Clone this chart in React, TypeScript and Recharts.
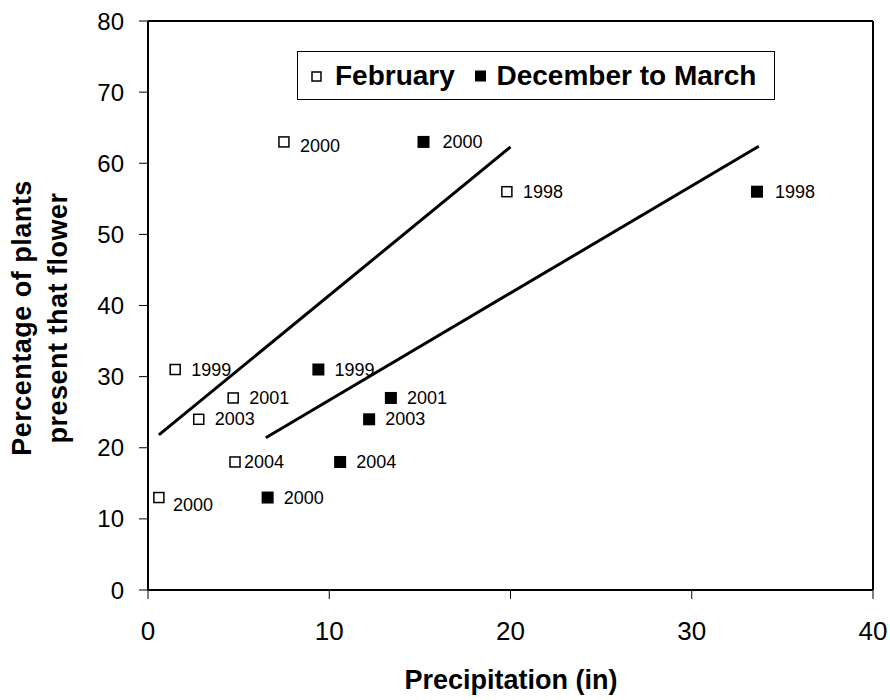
import React from 'react';
import {
  ScatterChart,
  Scatter,
  XAxis,
  YAxis,
  ReferenceLine,
  Legend,
} from 'recharts';

// February precipitation vs flowering
const FEB_X = [0.6, 4.8, 2.8, 4.7, 1.5, 7.5, 19.8];
const FEB_Y = [13, 18, 24, 27, 31, 63, 56];
const FEB_YEARS = ['2000', '2004', '2003', '2001', '1999', '2000', '1998'];

// December to March precipitation vs flowering
const DEC_X = [6.6, 10.6, 12.2, 13.4, 9.4, 15.2, 33.6];
const DEC_Y = [13, 18, 24, 27, 31, 63, 56];
const DEC_YEARS = ['2000', '2004', '2003', '2001', '1999', '2000', '1998'];

// fitted trend lines (end points)
const FEB_TREND_X = [0.6, 20.0];
const FEB_TREND_Y = [21.8, 62.3];
const DEC_TREND_X = [6.5, 33.7];
const DEC_TREND_Y = [21.4, 62.4];

const X_TICKS = [0, 10, 20, 30, 40];
const Y_TICKS = [0, 10, 20, 30, 40, 50, 60, 70, 80];

const FONT = '"Liberation Sans", Arial, Helvetica, sans-serif';

// label nudges, keyed by series + index
const NUDGE: Record<string, { dx?: number; dy?: number }> = {
  'feb-0': { dx: 14, dy: 7 },
  'feb-1': { dx: 9 },
  'feb-5': { dy: 4 },
  'dec-5': { dx: 19 },
  'dec-6': { dx: 18 },
};

const febData = FEB_X.map((x, i) => ({ x, y: FEB_Y[i], year: FEB_YEARS[i], key: `feb-${i}` }));
const decData = DEC_X.map((x, i) => ({ x, y: DEC_Y[i], year: DEC_YEARS[i], key: `dec-${i}` }));

function makeShape(filled: boolean) {
  return (props: any) => {
    const { cx, cy, payload } = props;
    if (cx == null || cy == null) return <g />;
    const n = NUDGE[payload.key] ?? {};
    const dx = n.dx ?? 16;
    const dy = n.dy ?? 0;
    return (
      <g>
        {filled ? (
          <rect x={cx - 6} y={cy - 6} width={12} height={12} fill="#000" />
        ) : (
          <rect x={cx - 5} y={cy - 5} width={10} height={10} fill="#fff" stroke="#000" strokeWidth={1.5} />
        )}
        <text
          x={cx + dx}
          y={cy + dy}
          dominantBaseline="central"
          fontSize={18}
          fontFamily={FONT}
          fill="#000"
        >
          {payload.year}
        </text>
      </g>
    );
  };
}

const LegendBox = () => (
  <svg width={478} height={49} style={{ display: 'block' }}>
    <rect x={0.5} y={0.5} width={477} height={48} fill="#fff" stroke="#000" strokeWidth={1} />
    <rect x={15} y={21} width={9} height={9} fill="#fff" stroke="#000" strokeWidth={1.5} />
    <text x={38} y={34} fontSize={28} fontWeight="bold" fontFamily={FONT} fill="#000">
      February
    </text>
    <rect x={178} y={19.5} width={11} height={11} fill="#000" />
    <text x={199.5} y={34} fontSize={28} fontWeight="bold" fontFamily={FONT} fill="#000">
      December to March
    </text>
  </svg>
);

const YTitle = () => (
  <g fontFamily={FONT} fontSize={27} fontWeight="bold" fill="#000" letterSpacing={0.5}>
    <text transform="translate(31,318) rotate(-90)" textAnchor="middle">
      Percentage of plants
    </text>
    <text transform="translate(67,318) rotate(-90)" textAnchor="middle">
      present that flower
    </text>
  </g>
);

const XTitle = () => (
  <text x={511} y={689} textAnchor="middle" fontFamily={FONT} fontSize={27} fontWeight="bold" fill="#000">
    Precipitation (in)
  </text>
);

export default function App() {
  return (
    <div style={{ position: 'absolute', left: 0, top: 0, background: '#fff', fontFamily: FONT }}>
      <ScatterChart width={890} height={700} margin={{ top: 21, right: 17, left: 0, bottom: 0 }}>
        <XAxis
          type="number"
          dataKey="x"
          domain={[0, 40]}
          ticks={X_TICKS}
          interval={0}
          height={110}
          axisLine={{ stroke: '#000', strokeWidth: 2 }}
          tickLine={{ stroke: '#000', strokeWidth: 1 }}
          tickSize={9}
          tickMargin={23}
          tick={{ fontSize: 26, fill: '#000', fontFamily: FONT }}
          label={{ content: XTitle }}
        />
        <YAxis
          type="number"
          dataKey="y"
          domain={[0, 80]}
          ticks={Y_TICKS}
          interval={0}
          width={148}
          axisLine={{ stroke: '#000', strokeWidth: 2 }}
          tickLine={{ stroke: '#000', strokeWidth: 1 }}
          tickSize={9}
          tickMargin={15}
          tick={{ fontSize: 24, fill: '#000', fontFamily: FONT }}
          label={{ content: YTitle }}
        />
        <ReferenceLine y={80} stroke="#000" strokeWidth={2} />
        <ReferenceLine x={40} stroke="#000" strokeWidth={2} />
        <ReferenceLine
          segment={[
            { x: FEB_TREND_X[0], y: FEB_TREND_Y[0] },
            { x: FEB_TREND_X[1], y: FEB_TREND_Y[1] },
          ]}
          stroke="#000"
          strokeWidth={3}
        />
        <ReferenceLine
          segment={[
            { x: DEC_TREND_X[0], y: DEC_TREND_Y[0] },
            { x: DEC_TREND_X[1], y: DEC_TREND_Y[1] },
          ]}
          stroke="#000"
          strokeWidth={3}
        />
        <Scatter name="February" data={febData} shape={makeShape(false)} isAnimationActive={false} />
        <Scatter name="December to March" data={decData} shape={makeShape(true)} isAnimationActive={false} />
        <Legend
          content={LegendBox}
          layout="horizontal"
          verticalAlign="middle"
          align="center"
          wrapperStyle={{ left: 297, top: 51, width: 478, height: 49 }}
        />
      </ScatterChart>
    </div>
  );
}
